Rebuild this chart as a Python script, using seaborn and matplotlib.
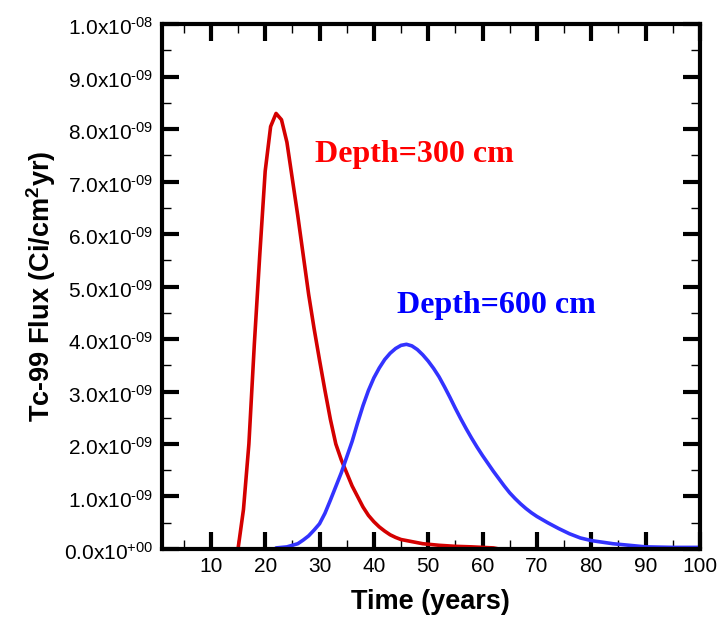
import numpy as np
import matplotlib
matplotlib.use('Agg')
import matplotlib.pyplot as plt
import matplotlib.transforms as mtransforms
from matplotlib.ticker import MultipleLocator, FuncFormatter
import seaborn as sns
import pandas as pd

# Depth = 300 cm (flux in units of 1e-9 Ci/cm2/yr)
t_300 = [15, 16, 17, 18, 19, 20, 21, 22, 23, 24, 25, 26, 27, 28, 29, 30,
         31, 32, 33, 34, 35, 36, 37, 38, 39, 40, 41, 42, 43, 44, 45, 46,
         47, 48, 49, 50, 52, 55, 58, 60, 62, 63]
f_300 = [0.0, 0.75, 2.0, 3.9, 5.6, 7.2, 8.05, 8.30, 8.18, 7.75, 7.05, 6.35,
         5.6, 4.85, 4.2, 3.6, 3.02, 2.47, 2.0, 1.7, 1.45, 1.2, 1.0, 0.8,
         0.64, 0.52, 0.42, 0.34, 0.27, 0.22, 0.18, 0.16, 0.14, 0.12, 0.10,
         0.09, 0.07, 0.05, 0.04, 0.03, 0.02, 0.0]

# Depth = 600 cm
t_600 = [22, 24, 26, 27, 28, 29, 30, 31, 32, 33, 34, 35, 36, 37, 38, 39,
         40, 41, 42, 43, 44, 45, 46, 47, 48, 49, 50, 51, 52, 53, 54, 55,
         56, 57, 58, 59, 60, 61, 62, 63, 64, 65, 66, 67, 68, 69, 70, 72,
         74, 76, 78, 80, 82, 84, 86, 88, 90, 95, 100]
f_600 = [0.02, 0.04, 0.10, 0.17, 0.25, 0.36, 0.48, 0.68, 0.93, 1.19, 1.45,
         1.75, 2.05, 2.4, 2.73, 3.02, 3.26, 3.45, 3.61, 3.73, 3.82, 3.88,
         3.90, 3.87, 3.80, 3.70, 3.58, 3.44, 3.28, 3.09, 2.89, 2.68, 2.48,
         2.29, 2.11, 1.94, 1.78, 1.63, 1.48, 1.34, 1.20, 1.07, 0.96, 0.86,
         0.77, 0.69, 0.62, 0.50, 0.39, 0.29, 0.21, 0.16, 0.13, 0.10, 0.08,
         0.06, 0.04, 0.03, 0.03]

df300 = pd.DataFrame({'t': t_300, 'flux': np.array(f_300) * 1e-9})
df600 = pd.DataFrame({'t': t_600, 'flux': np.array(f_600) * 1e-9})

sns.set_style('ticks')
plt.rcParams['font.family'] = ['Liberation Sans', 'DejaVu Sans']
plt.rcParams['mathtext.fontset'] = 'custom'
plt.rcParams['mathtext.rm'] = 'Liberation Sans'
plt.rcParams['mathtext.bf'] = 'Liberation Sans:bold'
for k in ['text.color', 'axes.labelcolor', 'xtick.color', 'ytick.color',
          'axes.edgecolor']:
    plt.rcParams[k] = 'black'

fig = plt.figure(figsize=(7.23, 6.21), dpi=100)
ax = fig.add_axes([0.224, 0.116, 0.744, 0.845])

sns.lineplot(data=df300, x='t', y='flux', color='#d40000', lw=2.6, ax=ax)
sns.lineplot(data=df600, x='t', y='flux', color='#3333ff', lw=2.6, ax=ax)

ax.set_xlim(1, 100)
ax.set_ylim(0, 1e-8)
ax.xaxis.set_major_locator(MultipleLocator(10))
ax.xaxis.set_minor_locator(MultipleLocator(5))
ax.yaxis.set_major_locator(MultipleLocator(1e-9))
ax.yaxis.set_minor_locator(MultipleLocator(0.5e-9))


def sci(v, pos):
    if abs(v) < 1e-15:
        return r'$\mathregular{0.0x10^{+00}}$'
    e = int(np.floor(np.log10(abs(v)) + 1e-9))
    m = v / 10 ** e
    sign = r'\text{-}' if e < 0 else '+'
    return r'$\mathregular{%.1fx10^{%s%02d}}$' % (m, sign, abs(e))


ax.yaxis.set_major_formatter(FuncFormatter(sci))
ax.set_xticks(range(10, 101, 10))

for s in ax.spines.values():
    s.set_linewidth(3)
ax.tick_params(which='major', direction='in', length=12, width=3,
               top=True, right=True, labelsize=15, pad=6)
ax.tick_params(which='minor', direction='in', length=6.5, width=1,
               top=True, right=True)

# nudge y tick labels down a little
shift = mtransforms.ScaledTranslation(0, -2 / 100, fig.dpi_scale_trans)
for lab in ax.get_yticklabels():
    lab.set_transform(lab.get_transform() + shift)

ax.set_xlabel('Time (years)', fontsize=19.5, fontweight='bold', labelpad=9)
ax.set_ylabel(r'Tc-99 Flux (Ci/cm$\mathbf{^2}$yr)', fontsize=19.5,
              fontweight='bold', labelpad=5)

ax.text(29.1, 7.38e-9, 'Depth=300 cm', color='#ff0000', fontsize=23,
        fontweight='bold', family='Liberation Serif')
ax.text(44.3, 4.5e-9, 'Depth=600 cm', color='#0000ff', fontsize=23,
        fontweight='bold', family='Liberation Serif')

fig.savefig('out.png', dpi=100)
